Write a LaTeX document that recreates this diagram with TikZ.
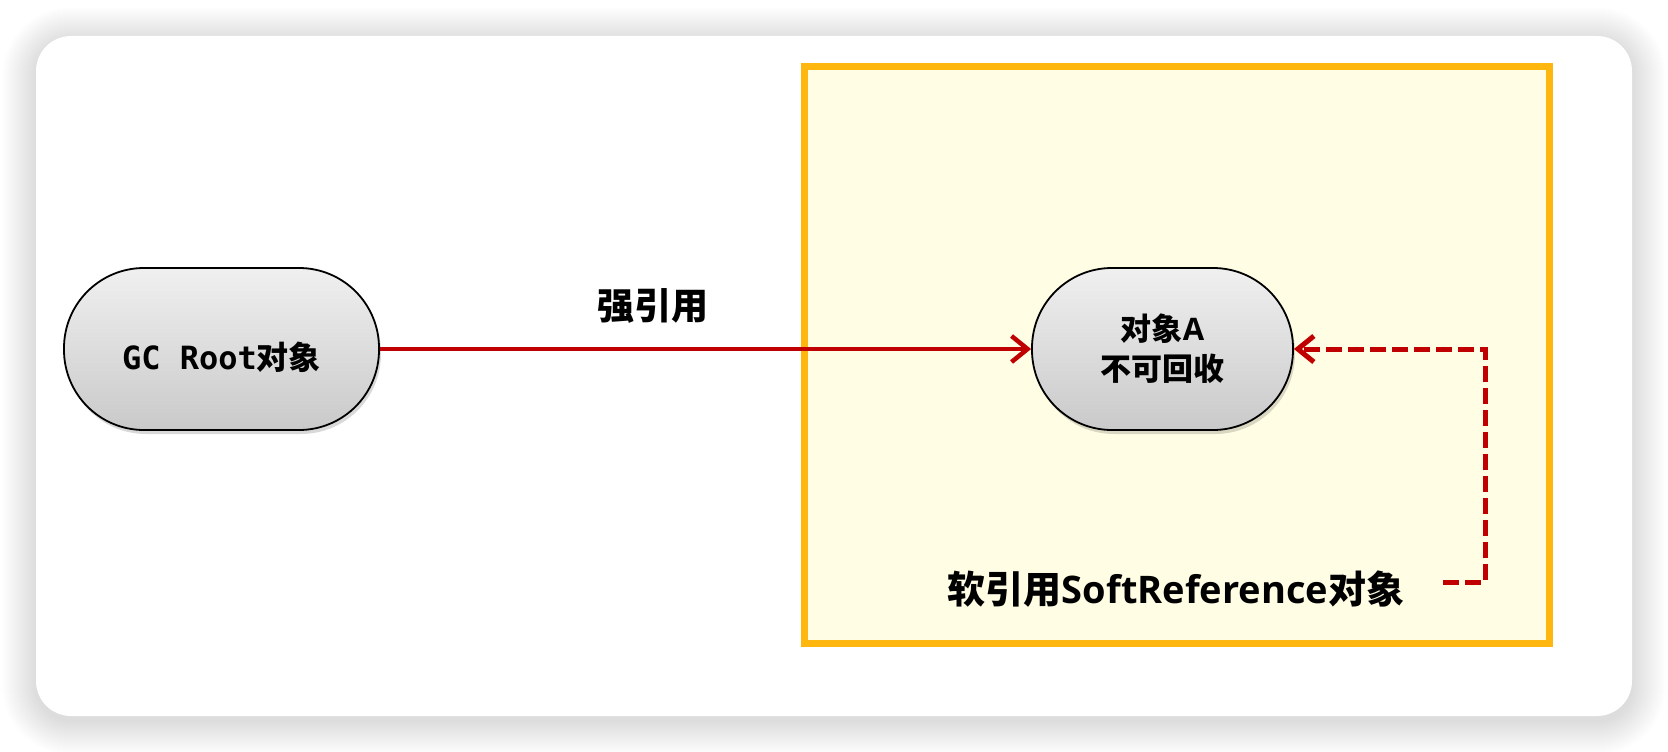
\documentclass[tikz,border=0pt]{standalone}
\usepackage{fontspec}
\usetikzlibrary{arrows.meta,shadows}
\newfontfamily\cjk{Noto Sans CJK SC}
\newfontfamily\lat{Open Sans}
\newfontfamily\mono{DejaVu Sans Mono}
\definecolor{refred}{HTML}{C00000}
\definecolor{ybord}{HTML}{FFB60F}
\definecolor{yfill}{HTML}{FFFDE4}
\begin{document}
\begin{tikzpicture}[x=1pt,y=-1pt,
  pill/.style={draw=black, line width=1.8pt, rounded corners=80pt,
    minimum height=162pt, inner sep=0pt,
    top color=gray!12, bottom color=gray!42,
    drop shadow={opacity=0.15, shadow xshift=2pt, shadow yshift=-4pt, fill=black}},
  strongarrow/.style={draw=refred, line width=4.5pt, -{Straight Barb[length=16pt,width=26pt]}},
  softarrow/.style={draw=refred, line width=5pt, dash pattern=on 16pt off 6pt,
    -{Straight Barb[length=16pt,width=26pt]}},
  lbl/.style={inner sep=0pt, text=black}]
\useasboundingbox (0,0) rectangle (1668,752);
\fill[white] (0,0) rectangle (1668,752);
% card shadow
\foreach \i in {1,...,34}{
  \pgfmathsetmacro\rr{35+\i}
  \fill[black, opacity=0.0042, rounded corners=\rr pt] (36-\i,41-\i) rectangle (1632+\i,721+\i);
}
\fill[white, rounded corners=35pt] (36,36) rectangle (1632,716);
% soft reference box
\draw[draw=ybord, fill=yfill, line width=7pt] (804.5,66.5) rectangle (1549.5,643.5);
% nodes
\node[pill, minimum width=315pt,
  label={[lbl, yshift=-8pt, font=\bfseries\fontsize{32pt}{36pt}\selectfont]center:{\mono GC Root}{\cjk 对象}}]
  (gc) at (221.5,349) {};
\node[pill, minimum width=261pt, align=center,
  font=\bfseries\fontsize{31pt}{40pt}\selectfont]
  (a) at (1162.5,349) {{\cjk 对象}{\lat A}\\{\cjk 不可回收}};
% labels
\node[lbl, font=\cjk\bfseries\fontsize{37pt}{40pt}\selectfont] (strong) at (653,306) {强引用};
\node[lbl, font=\bfseries\fontsize{38pt}{42pt}\selectfont] (soft) at (1176,589)
  {{\cjk 软引用}{\lat SoftReference}{\cjk 对象}};
% connectors
\draw[strongarrow] (gc) -- (a);
\coordinate (ds) at (1443,582);
\draw[softarrow] (ds) -- ++(42,0) |- (a.east);
\end{tikzpicture}
\end{document}
